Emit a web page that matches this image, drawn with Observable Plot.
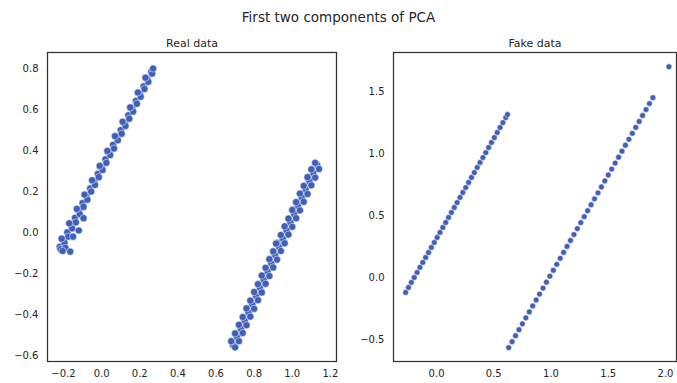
<!DOCTYPE html>
<html>
<head>
<meta charset="utf-8">
<script src="https://cdn.jsdelivr.net/npm/d3@7"></script>
<script src="https://cdn.jsdelivr.net/npm/@observablehq/plot@0.6"></script>
<style>
  html, body { margin: 0; padding: 0; background: #fff; }
  #wrap { position: relative; width: 677px; height: 383px; overflow: hidden; font-family: "DejaVu Sans", sans-serif; }
  #title { position: absolute; top: 9px; left: 0; width: 677px; text-align: center; font-size: 13.5px; color: #262626; }
  #left { position: absolute; top: 30px; left: 0; }
  #right { position: absolute; top: 30px; left: 338px; }
</style>
</head>
<body>
<div id="wrap">
  <div id="title">First two components of PCA</div>
  <div id="left"></div>
  <div id="right"></div>
</div>
<script>
// PCA projections (PC1, PC2) of the real samples: two elongated clusters
const realPoints = [
  // lower-left cluster
  [-0.22,-0.070],[-0.20,-0.034],[-0.18,0.001],[-0.16,0.037],[-0.14,0.072],[-0.12,0.108],[-0.10,0.144],
  [-0.08,0.179],[-0.06,0.215],[-0.04,0.250],[-0.02,0.286],[0.00,0.322],[0.02,0.357],[0.04,0.393],
  [0.06,0.428],[0.08,0.464],[0.10,0.500],[0.12,0.535],[0.14,0.571],[0.16,0.606],[0.18,0.642],
  [0.20,0.678],[0.22,0.713],[0.24,0.749],[0.26,0.784],
  [-0.215,-0.081],[-0.195,-0.050],[-0.175,-0.020],[-0.155,0.020],[-0.135,0.050],[-0.115,0.090],
  [-0.095,0.125],[-0.075,0.160],[-0.055,0.200],[-0.035,0.232],[-0.015,0.270],[0.005,0.305],
  [0.025,0.340],[0.045,0.378],[0.065,0.410],[0.085,0.450],[0.105,0.482],[0.125,0.520],
  [0.145,0.555],[0.165,0.590],[0.185,0.628],[0.205,0.662],[0.225,0.700],[0.245,0.735],[0.265,0.775],
  [-0.21,-0.030],[-0.17,0.045],[-0.13,0.115],[-0.09,0.185],[-0.05,0.255],[-0.01,0.325],[0.03,0.398],
  [0.07,0.470],[0.11,0.540],[0.15,0.610],[0.19,0.683],[0.23,0.755],[0.27,0.800],
  [-0.19,-0.075],[-0.165,-0.093],[-0.205,-0.090],[-0.15,-0.020],[-0.12,0.010],[-0.095,0.070],
  // upper-right cluster
  [0.69,-0.550],[0.71,-0.510],[0.73,-0.470],[0.75,-0.430],[0.77,-0.390],[0.79,-0.350],[0.81,-0.310],
  [0.83,-0.270],[0.85,-0.230],[0.87,-0.190],[0.89,-0.150],[0.91,-0.110],[0.93,-0.070],[0.95,-0.030],
  [0.97,0.010],[0.99,0.050],[1.01,0.090],[1.03,0.130],[1.05,0.170],[1.07,0.210],[1.09,0.250],
  [1.11,0.290],[1.13,0.330],
  [0.70,-0.560],[0.72,-0.530],[0.74,-0.490],[0.76,-0.452],[0.78,-0.410],[0.80,-0.372],[0.82,-0.330],
  [0.84,-0.292],[0.86,-0.250],[0.88,-0.212],[0.90,-0.170],[0.92,-0.132],[0.94,-0.090],[0.96,-0.052],
  [0.98,-0.010],[1.00,0.028],[1.02,0.070],[1.04,0.108],[1.06,0.150],[1.08,0.188],[1.10,0.230],
  [1.12,0.268],[1.14,0.310],
  [0.68,-0.530],[0.70,-0.492],[0.72,-0.450],[0.74,-0.412],[0.76,-0.370],[0.78,-0.332],[0.80,-0.290],
  [0.82,-0.252],[0.84,-0.210],[0.86,-0.172],[0.88,-0.130],[0.90,-0.092],[0.92,-0.050],[0.94,-0.012],
  [0.96,0.030],[0.98,0.068],[1.00,0.110],[1.02,0.148],[1.04,0.190],[1.06,0.228],[1.08,0.270],
  [1.10,0.308],[1.12,0.340],[0.915,-0.054]
];

// PCA projections of the generated samples: two thin lines and one stray point
const fakePoints = [
  [-0.27,-0.120],[-0.245,-0.080],[-0.22,-0.039],[-0.195,0.001],[-0.17,0.041],[-0.145,0.082],
  [-0.12,0.122],[-0.095,0.162],[-0.07,0.202],[-0.045,0.243],[-0.02,0.283],[0.005,0.323],
  [0.03,0.364],[0.055,0.404],[0.08,0.444],[0.105,0.485],[0.13,0.525],[0.155,0.565],
  [0.18,0.605],[0.205,0.646],[0.23,0.686],[0.255,0.726],[0.28,0.767],[0.305,0.807],
  [0.33,0.847],[0.355,0.888],[0.38,0.928],[0.405,0.968],[0.43,1.008],[0.455,1.049],
  [0.48,1.089],[0.505,1.129],[0.53,1.170],[0.555,1.210],[0.58,1.250],[0.605,1.290],[0.62,1.315],
  [0.63,-0.565],[0.66,-0.517],[0.69,-0.469],[0.72,-0.421],[0.75,-0.373],[0.78,-0.325],
  [0.81,-0.277],[0.84,-0.229],[0.87,-0.181],[0.90,-0.133],[0.93,-0.085],[0.96,-0.037],
  [0.99,0.011],[1.02,0.059],[1.05,0.107],[1.08,0.155],[1.11,0.203],[1.14,0.251],
  [1.17,0.299],[1.20,0.347],[1.23,0.395],[1.26,0.443],[1.29,0.491],[1.32,0.539],
  [1.35,0.587],[1.38,0.635],[1.41,0.683],[1.44,0.731],[1.47,0.779],[1.50,0.827],
  [1.53,0.875],[1.56,0.923],[1.59,0.971],[1.62,1.019],[1.65,1.067],[1.68,1.115],
  [1.71,1.163],[1.74,1.211],[1.77,1.259],[1.80,1.307],[1.83,1.355],[1.86,1.403],[1.89,1.451],
  [2.03,1.700]
];

const realXTicks = [-0.2, 0.0, 0.2, 0.4, 0.6, 0.8, 1.0, 1.2];
const realYTicks = [-0.6, -0.4, -0.2, 0.0, 0.2, 0.4, 0.6, 0.8];
const fakeXTicks = [0.0, 0.5, 1.0, 1.5, 2.0];
const fakeYTicks = [-0.5, 0.0, 0.5, 1.0, 1.5];

const fmt = d3.format(".1f");
const textColor = "#262626";

function panel({points, title, xDomain, yDomain, xTicks, yTicks, width, marginLeft, marginRight, r}) {
  return Plot.plot({
    width,
    height: 353,
    marginTop: 22,
    marginBottom: 22,
    marginLeft,
    marginRight,
    style: {fontFamily: "DejaVu Sans, sans-serif", fontSize: "10px", color: textColor, background: "white"},
    x: {domain: xDomain},
    y: {domain: yDomain},
    marks: [
      Plot.axisX({ticks: xTicks, tickSize: 0, tickPadding: 8, tickFormat: fmt, label: null}),
      Plot.axisY({ticks: yTicks, tickSize: 0, tickPadding: 9, tickFormat: fmt, label: null}),
      Plot.dot(points, {x: d => d[0], y: d => d[1], r, fill: "#3f5fb8", stroke: "white", strokeWidth: 0.5}),
      Plot.frame({stroke: "#333", strokeWidth: 1.25}),
      Plot.text([title], {frameAnchor: "top", dy: -6, lineAnchor: "bottom", fontSize: 11, fill: textColor})
    ]
  });
}

document.getElementById("left").append(panel({
  points: realPoints, title: "Real data",
  xDomain: [-0.284, 1.232], yDomain: [-0.629, 0.878],
  xTicks: realXTicks, yTicks: realYTicks,
  width: 338, marginLeft: 47, marginRight: 2, r: 3.6
}));

document.getElementById("right").append(panel({
  points: fakePoints, title: "Fake data",
  xDomain: [-0.376, 2.096], yDomain: [-0.677, 1.815],
  xTicks: fakeXTicks, yTicks: fakeYTicks,
  width: 339, marginLeft: 55, marginRight: 1, r: 2.9
}));
</script>
</body>
</html>
